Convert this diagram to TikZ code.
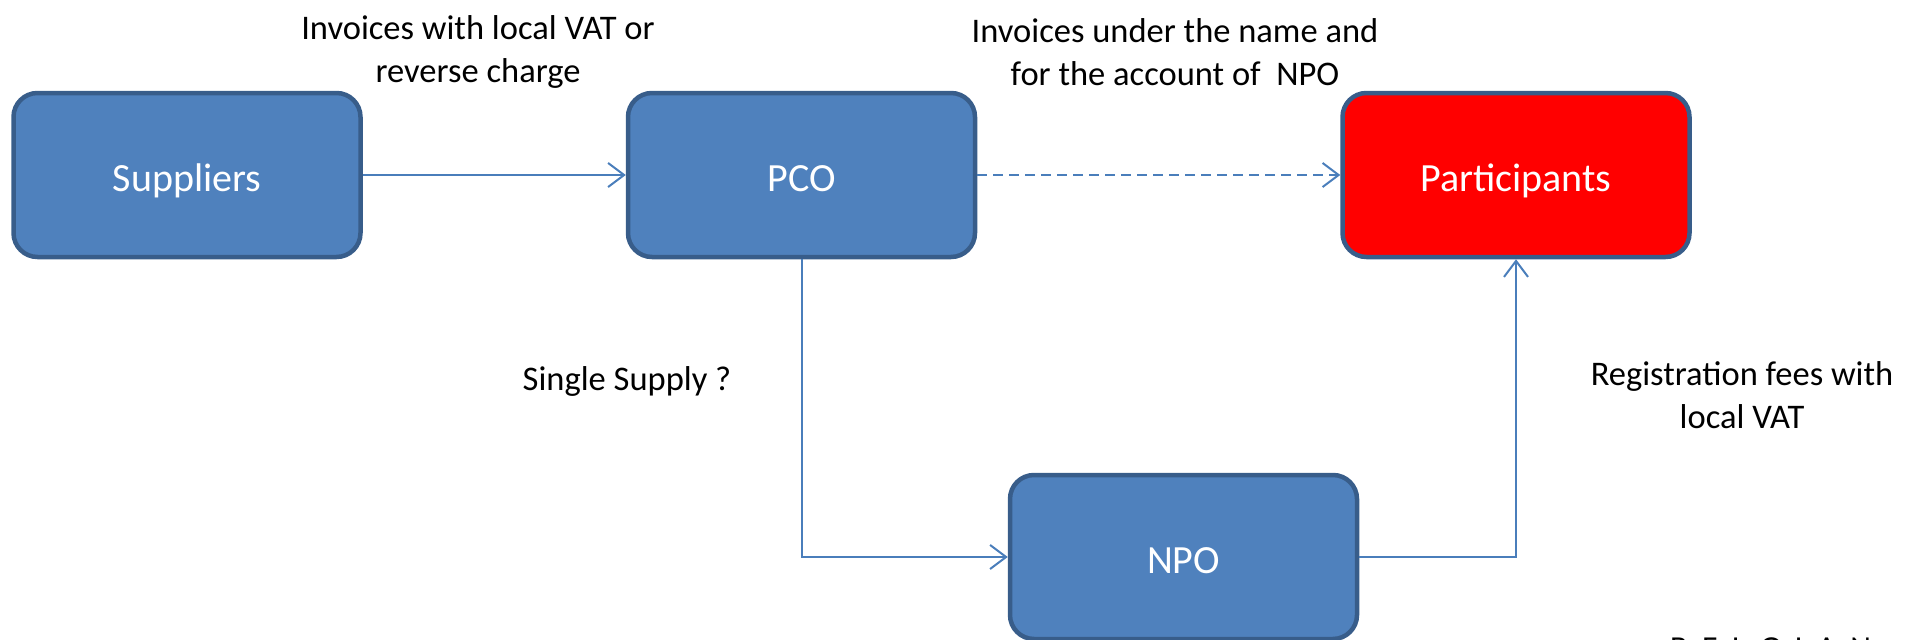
\documentclass[tikz,border=0pt]{standalone}
\usepackage{fontspec}
\setmainfont{Carlito}
\usetikzlibrary{arrows.meta}
\definecolor{boxfill}{HTML}{4F81BD}
\definecolor{boxline}{HTML}{385D8A}
\definecolor{connc}{HTML}{4A7EBB}
\begin{document}
\begin{tikzpicture}[x=1pt,y=-1pt,
 box/.style={draw=boxline, fill=boxfill, line width=4.5pt, rounded corners=24pt,
   minimum width=347pt, minimum height=164pt, inner sep=0pt, text=white,
   text height=40pt, text depth=8pt,
   font=\fontsize{40}{48}\selectfont},
 lbl/.style={align=center, font=\fontsize{34.5}{43}\selectfont},
 conn/.style={draw=connc, line width=2pt, -{Straight Barb[length=16pt,width=24pt]}}]
\useasboundingbox (0,0) rectangle (1912,640);
\node[box] (sup) at (187,175) {Suppliers};
\node[box] (pco) at (801.5,175) {PCO};
\node[box, fill=red] (par) at (1516,175) {Participants};
\node[box] (npo) at (1183.5,557) {NPO};
\draw[conn] (sup) -- (pco);
\draw[conn, dash pattern=on 10pt off 6pt] (pco) -- (par);
\draw[conn] (pco.south) |- (npo.west);
\draw[conn] (npo.east) -| (par.south);
\node[lbl] (l1) at (478,52) {Invoices with local VAT or\\reverse charge};
\node[lbl] (l2) at (1175,52) {Invoices under the name and\\for the account of\ \ NPO};
\node[lbl] (l3) at (627,381) {Single Supply ?};
\node[lbl] (l4) at (1742,395) {Registration fees with\\local VAT};
\node[anchor=base west, inner sep=0pt, font=\fontsize{32}{32}\selectfont] (bel) at (1670,658) {B\ \ E\ \ L\ \ G\ \ I\ \ A\ \ N};
\end{tikzpicture}
\end{document}
